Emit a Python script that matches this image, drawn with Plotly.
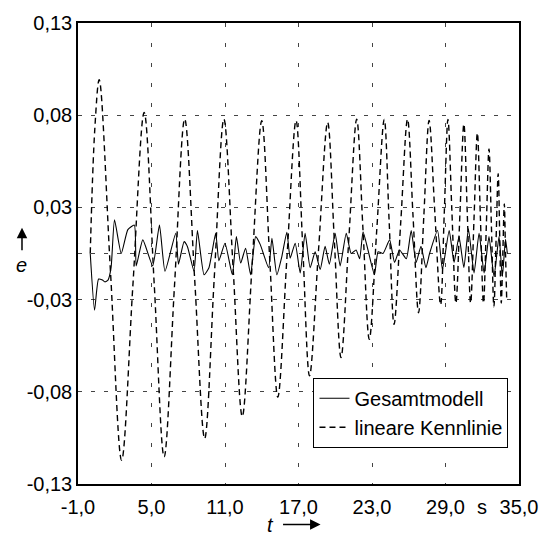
import plotly.graph_objects as go

# Gesamtmodell (solid)
t_gesamt = [0.0, 0.35, 0.68, 1.0, 1.2, 1.45, 1.7, 1.98, 2.53, 3.07, 3.6, 3.75, 4.29, 5.1, 5.65,
            6.1, 6.98, 7.2, 7.66, 7.93, 8.47, 8.75, 9.29, 9.69, 10.24, 10.5, 11.0, 11.6, 11.93,
            12.28, 12.68, 13.09, 13.5, 13.88, 14.56, 14.83, 15.23, 15.64, 16.05, 16.32, 16.73,
            17.14, 17.54, 17.95, 18.36, 18.77, 19.17, 19.52, 19.99, 20.4, 20.9, 21.3, 21.7,
            21.99, 22.27, 22.67, 23.2, 23.5, 23.9, 24.44, 24.84, 25.25, 25.8, 26.2, 26.6, 27.0,
            27.4, 27.7, 28.35, 28.75, 29.3, 29.7, 30.1, 30.5, 30.87, 31.33, 31.74, 32.15, 32.55,
            32.96, 33.37, 33.64, 33.9, 34.05]
e_gesamt = [0.0, -0.032, -0.0144, -0.015, -0.016, -0.015, -0.008, 0.019, 0.0, 0.0135, 0.016, -0.007,
            0.0077, -0.007, 0.016, -0.01, 0.0114, -0.006, 0.0067, 0.004, -0.01, 0.013, -0.012,
            -0.008, 0.0114, -0.004, 0.0058, -0.012, 0.0095, -0.0054, 0.003, -0.012, 0.0095, 0.005,
            -0.008, 0.0086, -0.012, -0.0017, 0.012, -0.0026, 0.0058, -0.011, 0.0114, -0.008, 0.001,
            -0.009, 0.004, -0.006, 0.0114, -0.007, 0.0114, 0.0, 0.002, -0.003, 0.0123, 0.002,
            -0.012, 0.001, 0.0, 0.0077, -0.005, 0.002, -0.003, 0.013, -0.005, 0.004, -0.008, 0.0,
            0.013, -0.009, 0.013, -0.005, 0.0095, -0.008, 0.014, -0.011, 0.0114, -0.011, 0.0095,
            -0.013, 0.0095, -0.013, 0.008, 0.0]

# lineare Kennlinie (dashed)
t_linear = [0.0, 0.37, 0.73, 1.65, 2.56, 3.48, 4.4, 5.22, 6.03, 6.87, 7.71, 8.52, 9.34, 10.12,
            10.91, 11.66, 12.41, 13.2, 14.0, 14.65, 15.31, 16.05, 16.8, 17.35, 17.9, 18.64, 19.38,
            19.92, 20.47, 21.11, 21.75, 22.26, 22.78, 23.39, 24.0, 24.4, 24.8, 25.35, 25.9, 26.35,
            26.8, 27.23, 27.66, 28.13, 28.6, 28.9, 29.2, 29.52, 29.85, 30.18, 30.5, 30.78, 31.05,
            31.33, 31.6, 31.85, 32.1, 32.33, 32.55, 32.75, 32.95, 33.13, 33.3, 33.43, 33.55, 33.68,
            33.8, 33.9, 34.0]
e_linear = [0.0, 0.07, 0.098, -0.01, -0.1166, -0.018, 0.0796, -0.017, -0.1147, -0.019, 0.0758,
            -0.014, -0.1044, -0.014, 0.0758, -0.008, -0.0919, -0.008, 0.0749, -0.003, -0.081,
            -0.003, 0.075, 0.003, -0.069, 0.0025, 0.074, 0.008, -0.0587, 0.0085, 0.0758, 0.014,
            -0.0484, 0.0135, 0.0756, 0.018, -0.040, 0.018, 0.0758, 0.021, -0.0334, 0.021, 0.075,
            0.023, -0.029, 0.023, 0.0756, 0.024, -0.028, 0.023, 0.073, 0.022, -0.028, 0.02, 0.068,
            0.02, -0.028, 0.015, 0.059, 0.015, -0.03, 0.008, 0.045, 0.008, -0.028, 0.0, 0.028, 0.0,
            -0.027]

x_ticks = [-1, 5, 11, 17, 23, 29, 35]
x_labels = ["-1,0", "5,0", "11,0", "17,0", "23,0", "29,0", "35,0"]
y_ticks = [-0.13, -0.078, -0.026, 0.0, 0.026, 0.078, 0.13]
y_labels = ["-0,13", "-0,08", "-0,03", "", "0,03", "0,08", "0,13"]

FONT = "Liberation Sans, Arial, sans-serif"
FS = 20

fig = go.Figure()
fig.add_trace(go.Scatter(x=t_gesamt, y=e_gesamt, mode="lines", name="Gesamtmodell",
                         line=dict(color="black", width=1.1, shape="spline", smoothing=0.5)))
fig.add_trace(go.Scatter(x=t_linear, y=e_linear, mode="lines", name="lineare Kennlinie",
                         line=dict(color="black", width=1.4, dash="6px,4px", shape="spline", smoothing=1.0)))

fig.update_layout(
    width=550, height=545,
    margin=dict(l=78, r=30, t=20, b=61),
    paper_bgcolor="white", plot_bgcolor="white",
    font=dict(family=FONT, size=FS, color="black"),
    showlegend=True,
    legend=dict(x=0.534, y=0.2306, xanchor="left", yanchor="top",
                bgcolor="white", bordercolor="black", borderwidth=1,
                font=dict(family=FONT, size=FS, color="black"),
                itemwidth=30, tracegroupgap=0),
    xaxis=dict(range=[-1, 35], tickvals=x_ticks, ticktext=x_labels,
               showgrid=True, gridcolor="#444", gridwidth=1, griddash="4px,16px",
               showline=True, mirror=True, linecolor="black", linewidth=1.5,
               zeroline=False, ticks="", ticklabelstandoff=4, tickfont=dict(family=FONT, size=FS)),
    yaxis=dict(range=[-0.13, 0.13], tickvals=y_ticks, ticktext=y_labels,
               showgrid=True, gridcolor="#444", gridwidth=1, griddash="4px,9px",
               showline=True, mirror=True, linecolor="black", linewidth=1.5,
               zeroline=False, ticks="", tickfont=dict(family=FONT, size=FS)),
)

fig.add_annotation(x=32, y=-0.05, xref="x", yref="paper", text="s", showarrow=False,
                   font=dict(family=FONT, size=FS), xanchor="center", yanchor="middle")
fig.add_annotation(x=0.436, y=-0.088, xref="paper", yref="paper", text="<i>t</i>", showarrow=False,
                   font=dict(family=FONT, size=FS), xanchor="center", yanchor="middle")
fig.add_annotation(x=0.55, y=-0.088, xref="paper", yref="paper", text="", showarrow=True,
                   ax=-39, ay=0, arrowhead=2, arrowsize=1.4, arrowwidth=1.5, arrowcolor="black")
fig.add_annotation(x=-0.127, y=0.476, xref="paper", yref="paper", text="<i>e</i>", showarrow=False,
                   font=dict(family=FONT, size=FS), xanchor="center", yanchor="middle")
fig.add_annotation(x=-0.127, y=0.556, xref="paper", yref="paper", text="", showarrow=True,
                   ax=0, ay=24, arrowhead=2, arrowsize=1.4, arrowwidth=1.5, arrowcolor="black")

fig.write_html("out.html")
